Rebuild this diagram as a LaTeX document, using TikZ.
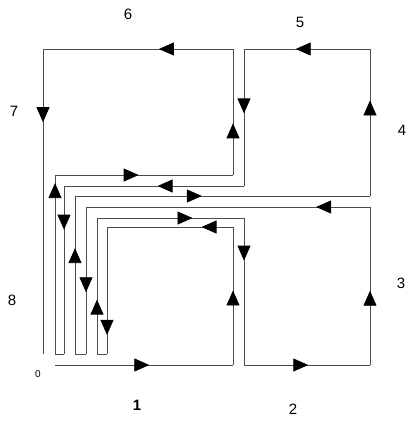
\documentclass[tikz,border=0pt]{standalone}
\usepackage{fontspec}
\setmainfont{Liberation Sans}
\usetikzlibrary{arrows.meta,decorations.markings}
\tikzset{
  loopline/.style={black!70, line width=0.8pt},
  arr/.style={decoration={markings,
      mark=at position #1 with {\arrow[black]{Triangle[length=15pt,width=13pt]}}},
    postaction=decorate},
  lbl/.style={font=\fontsize{15}{15}\selectfont}
}
\begin{document}
\begin{tikzpicture}[x=1pt, y=-1pt]
	\useasboundingbox (0,0) rectangle (415,426);
	% corners of the winding curve
	\coordinate (p0) at (55,365);
	\coordinate (p1) at (233,365);
	\coordinate (p2) at (233,227);
	\coordinate (p3) at (107,227);
	\coordinate (p4) at (107,354);
	\coordinate (p5) at (97,354);
	\coordinate (p6) at (97,218);
	\coordinate (p7) at (244,218);
	\coordinate (p8) at (244,365);
	\coordinate (p9) at (370,365);
	\coordinate (p10) at (370,207);
	\coordinate (p11) at (86,207);
	\coordinate (p12) at (86,354);
	\coordinate (p13) at (75,354);
	\coordinate (p14) at (75,196);
	\coordinate (p15) at (370,196);
	\coordinate (p16) at (370,49);
	\coordinate (p17) at (244,49);
	\coordinate (p18) at (244,186);
	\coordinate (p19) at (64,186);
	\coordinate (p20) at (64,354);
	\coordinate (p21) at (55,354);
	\coordinate (p22) at (55,175);
	\coordinate (p23) at (233,175);
	\coordinate (p24) at (233,49);
	\coordinate (p25) at (43,49);
	\coordinate (p26) at (43,354);
	% segments with their arrows
	\foreach \a/\b/\p in {p0/p1/0.53, p1/p2/0.54, p2/p3/0.25, p3/p4/0.85,
	    p5/p6/0.40, p6/p7/0.65, p7/p8/0.29, p8/p9/0.51, p9/p10/0.47,
	    p10/p11/0.19, p11/p12/0.58, p13/p14/0.67, p14/p15/0.43,
	    p15/p16/0.65, p16/p17/0.59, p17/p18/0.47, p18/p19/0.48,
	    p19/p20/0.26, p21/p22/0.955, p22/p23/0.47, p23/p24/0.41,
	    p24/p25/0.39, p25/p26/0.24}
	  \draw[loopline, arr=\p] (\a) -- (\b);
	\foreach \a/\b in {p4/p5, p12/p13, p20/p21}
	  \draw[loopline] (\a) -- (\b);
	% labels
	\node[lbl, font=\fontsize{10}{10}\selectfont] (l0) at (38,374) {0};
	\node[lbl, font=\fontsize{15}{15}\bfseries] (l1) at (137,405) {1};
	\node[lbl] (l2) at (293,409) {2};
	\node[lbl] (l3) at (401,283) {3};
	\node[lbl] (l4) at (402,130) {4};
	\node[lbl] (l5) at (300,22) {5};
	\node[lbl] (l6) at (128,14) {6};
	\node[lbl] (l7) at (14,111) {7};
	\node[lbl] (l8) at (12,300) {8};
\end{tikzpicture}
\end{document}
